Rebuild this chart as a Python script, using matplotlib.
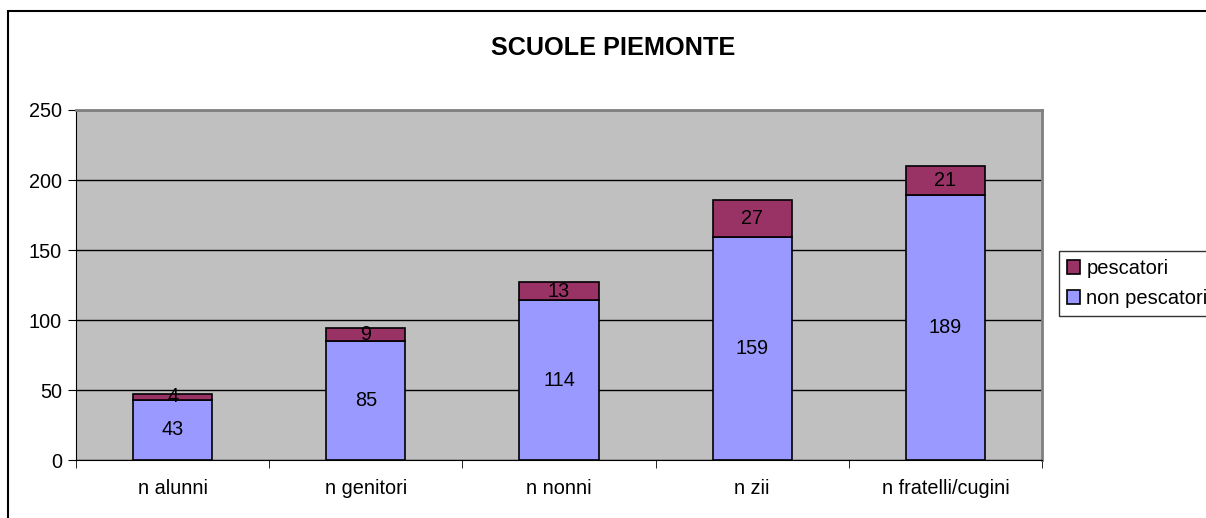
import numpy as np
import matplotlib
matplotlib.use("Agg")
import matplotlib.pyplot as plt
from matplotlib.patches import Rectangle

plt.rcParams['font.family'] = ['Liberation Sans', 'DejaVu Sans']

categorie = ["n alunni", "n genitori", "n nonni", "n zii", "n fratelli/cugini"]
non_pescatori = [43, 85, 114, 159, 189]
pescatori = [4, 9, 13, 27, 21]

fs = 14.3

fig = plt.figure(figsize=(12.06, 5.18), dpi=100)
ax = fig.add_axes([76/1206, 1-460/518, (1042-76)/1206, (460-110)/518])
ax.set_facecolor("#C0C0C0")

x = np.arange(len(categorie))
larg = 0.41
ax.bar(x, non_pescatori, larg, color="#9999FF", edgecolor="black", linewidth=1.2,
       label="non pescatori", zorder=3)
ax.bar(x, pescatori, larg, bottom=non_pescatori, color="#993366", edgecolor="black",
       linewidth=1.2, label="pescatori", zorder=3)

for i in range(len(categorie)):
    ax.text(x[i], non_pescatori[i] / 2, str(non_pescatori[i]), ha="center", va="center",
            fontsize=fs, zorder=4)
    ax.text(x[i], non_pescatori[i] + pescatori[i] / 2, str(pescatori[i]), ha="center",
            va="center", fontsize=fs, zorder=4)

ax.set_xlim(-0.5, len(categorie) - 0.5)
ax.set_ylim(0, 250)
ax.set_yticks(range(0, 251, 50))
ax.yaxis.grid(True, color="black", linewidth=1, zorder=1)
ax.set_axisbelow(True)
ax.set_xticks(x)
ax.set_xticklabels(categorie, fontsize=fs)
ax.set_xticks(np.arange(-0.5, len(categorie), 1), minor=True)
ax.tick_params(axis="x", which="major", length=0, pad=14)
ax.tick_params(axis="x", which="minor", length=6, direction="out", color="black")
ax.tick_params(axis="y", length=6, direction="out", labelsize=fs, pad=4)

ax.spines["left"].set_color("black")
ax.spines["bottom"].set_color("black")
ax.spines["top"].set_color("#808080")
ax.spines["right"].set_color("#808080")
ax.spines["top"].set_linewidth(2)
ax.spines["right"].set_linewidth(2)

fig.text(613/1206, 1-48/518, "SCUOLE PIEMONTE", ha="center", va="center",
         fontsize=18.2, fontweight="bold")

h, l = ax.get_legend_handles_labels()
leg = fig.legend(h[::-1], l[::-1], loc="upper left",
                 bbox_to_anchor=(1059/1206, 1-251/518), frameon=True, fancybox=False,
                 fontsize=14.5, handlelength=0.65, handleheight=0.65, handletextpad=0.3,
                 borderpad=0.4, labelspacing=0.55, borderaxespad=0)
leg.get_frame().set_edgecolor("black")
leg.get_frame().set_linewidth(1)
for p in leg.get_patches():
    p.set_linewidth(1.2)

fig.patches.append(Rectangle((8/1206, -0.1), 1.2, 1-11/518 + 0.1, transform=fig.transFigure,
                             fill=False, edgecolor="black", linewidth=1.5, zorder=0))

fig.savefig("out.png", dpi=100)
